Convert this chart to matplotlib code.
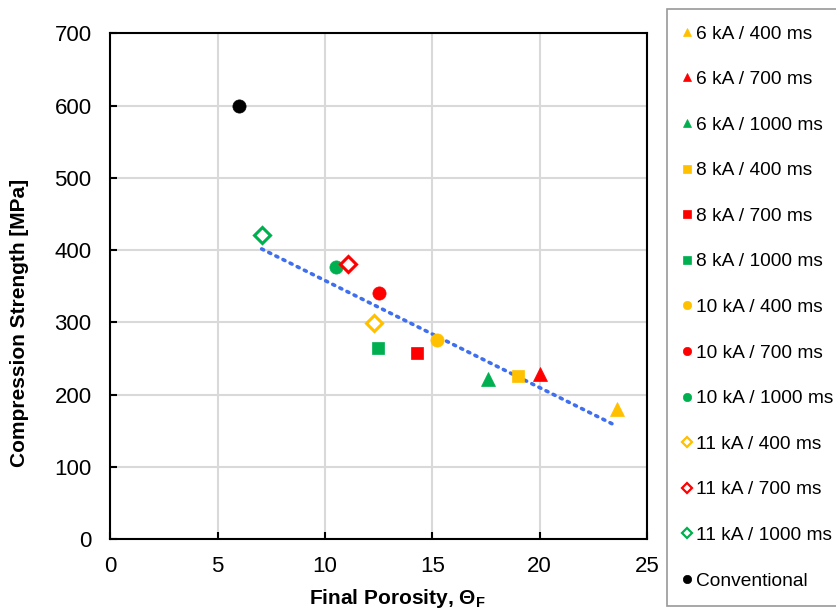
import numpy as np
import matplotlib
matplotlib.use("Agg")
import matplotlib.pyplot as plt
from matplotlib.lines import Line2D

plt.rcParams['font.family'] = ['Liberation Sans', 'DejaVu Sans']

# Data
labels = ["6 kA / 400 ms", "6 kA / 700 ms", "6 kA / 1000 ms",
          "8 kA / 400 ms", "8 kA / 700 ms", "8 kA / 1000 ms",
          "10 kA / 400 ms", "10 kA / 700 ms", "10 kA / 1000 ms",
          "11 kA / 400 ms", "11 kA / 700 ms", "11 kA / 1000 ms",
          "Conventional"]
porosity = [23.6, 20.0, 17.6, 19.0, 14.3, 12.45, 15.2, 12.5, 10.5, 12.3, 11.05, 7.05, 6.0]
strength = [180, 228, 222, 225, 257, 265, 275, 340, 377, 299, 381, 421, 600]

orange, red, green = "#FFC000", "#FF0000", "#00B050"
colors = [orange, red, green] * 4 + ["black"]
markers = ["^"] * 3 + ["s"] * 3 + ["o"] * 3 + ["D"] * 3 + ["o"]
sizes = [10] * 3 + [8.5] * 3 + [9.5] * 3 + [8.5] * 3 + [9.5]
hollow = [False] * 9 + [True] * 3 + [False]

fig = plt.figure(figsize=(8.37, 6.15), dpi=100)
ax = fig.add_axes([0.1318, 0.1236, 0.6412, 0.8222])

for x, y, c, m, s, h in zip(porosity, strength, colors, markers, sizes, hollow):
    ax.plot(x, y, linestyle="none", marker=m, markersize=s,
            markerfacecolor="white" if h else c, markeredgecolor=c,
            markeredgewidth=2.2 if h else 0.5, zorder=3)

# linear trendline over the porous samples
px = np.array(porosity[:12])
py = np.array(strength[:12])
k, b = np.polyfit(px, py, 1)
xt = np.array([px.min(), px.max()])
ax.plot(xt, k * xt + b, linestyle=(0, (0.6, 1.6)), color="#3F6FEF",
        linewidth=2.6, dash_capstyle="round", zorder=2)

ax.set_xlim(0, 25)
ax.set_ylim(0, 700)
ax.set_xticks(range(0, 26, 5))
ax.set_yticks(range(0, 701, 100))
ax.grid(True, color="#D9D9D9", linewidth=1.5)
ax.set_axisbelow(True)
for sp in ax.spines.values():
    sp.set_linewidth(1.5)
ax.tick_params(direction="in", length=5, width=1.5, labelsize=16)
ax.tick_params(axis="y", pad=13.5)
ax.tick_params(axis="x", pad=12)

# axis titles placed like the original (slightly off-centre)
fig.text(0.475, 0.0276, r"Final Porosity, Θ$_\mathregular{F}$", fontsize=15,
         fontweight="bold", ha="center", va="center")
fig.text(0.0233, 0.4748, "Compression Strength [MPa]", fontsize=15,
         fontweight="bold", ha="center", va="center", rotation=90)

handles = [Line2D([], [], linestyle="none", marker=m, markersize=6 if m != "D" else 4.8,
                  markerfacecolor="white" if h else c, markeredgecolor=c,
                  markeredgewidth=1.6 if h else 0.5, label=l)
           for l, c, m, h in zip(labels, colors, markers, hollow)]
leg = fig.legend(handles=handles, loc="upper left", bbox_to_anchor=(0.797, 0.986),
                 fontsize=13.8, frameon=True, fancybox=False, edgecolor="#7F7F7F",
                 labelspacing=1.47, handlelength=0.36, handletextpad=0.28,
                 borderpad=0.86, borderaxespad=0)
leg.get_frame().set_linewidth(1.2)

fig.savefig("out.png", dpi=100)
